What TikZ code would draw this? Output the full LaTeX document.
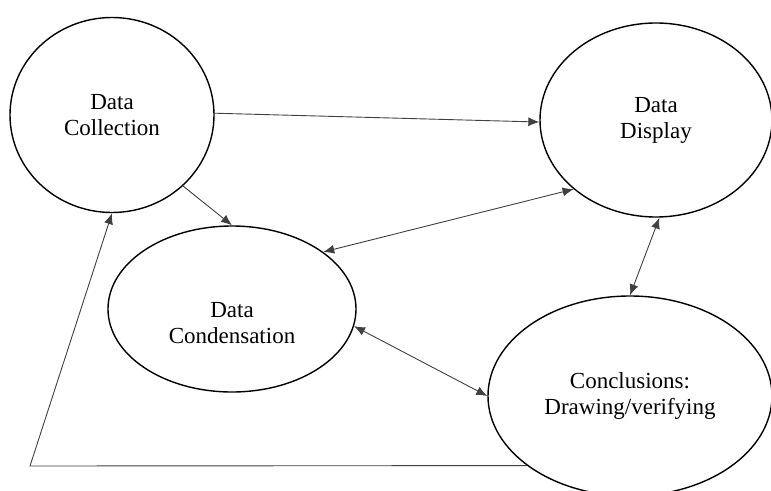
\documentclass[tikz,border=0pt]{standalone}
\usepackage{fontspec}
\setmainfont{Liberation Serif}
\usetikzlibrary{arrows.meta,shapes.geometric}

\tikzset{
  stage/.style={draw, ellipse, line width=1.4pt, inner sep=0pt, align=center,
    font=\fontsize{23}{26}\selectfont},
  stagetext/.style={align=center, font=\fontsize{23}{26}\selectfont},
  flow/.style={draw=black!75, line width=0.9pt, -{Latex[length=11pt,width=9pt]}},
  dflow/.style={draw=black!75, line width=0.9pt,
    {Latex[length=11pt,width=9pt]}-{Latex[length=11pt,width=9pt]}},
}

\begin{document}
\begin{tikzpicture}  % ------ analysis cycle: four stages --------
      [x=1pt, y=-1pt]
    \useasboundingbox (0,0) rectangle (771,490);

    \node[stage, minimum width=204, minimum height=195] (coll)  at (112,115) {Data\\Collection};
    \node[stage, minimum width=232, minimum height=194] (disp)  at (656,120) {Data\\Display};
    \node[stage, minimum width=248, minimum height=166] (cond)  at (232,309) {};
    \node[stagetext] (condtext) at (232,323) {Data\\Condensation};
    \node[stage, minimum width=284, minimum height=200] (concl) at (630,396) {Conclusions:\\Drawing/verifying};
    \coordinate (back) at (30,466);

    \draw[flow] (coll.1) -- (disp.181) ;
    \draw[flow] (coll.315) -- (cond.north) ;
    \draw[dflow] (disp.220) -- (cond.32) ;
    \draw[dflow] (disp.272) -- (concl.north) ;
    \draw[dflow] (cond.352) -- (concl.west) ;
    \draw[flow] (concl.214) -- (back) -- (coll.south) ;  % back to collection
\end{tikzpicture}
\end{document}
